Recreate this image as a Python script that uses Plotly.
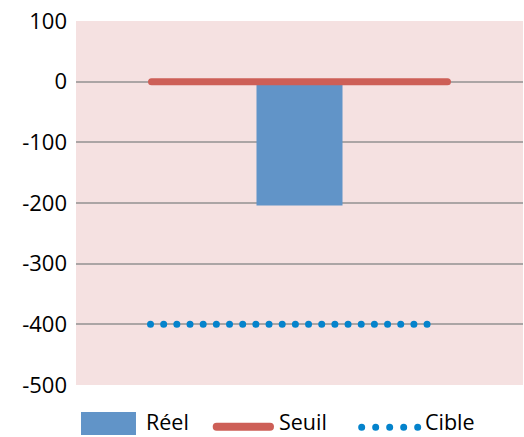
import plotly.graph_objects as go

# Data
categories = ["Réel"]
reel_values = [-204]
seuil_value = 0
cible_value = -400
y_ticks = [100, 0, -100, -200, -300, -400, -500]
legend_labels = ["Réel", "Seuil", "Cible"]

FONT = "Open Sans"
BG = "#F5E1E1"
C_BAR = "#6194C8"
C_SEUIL = "#CD5F57"
C_CIBLE = "#0483CC"

fig = go.Figure()

fig.add_trace(go.Bar(
    x=[0], y=reel_values, name=legend_labels[0], width=0.1924,
    marker=dict(color=C_BAR, line=dict(width=0)),
))

fig.add_trace(go.Scatter(
    x=[-0.331, 0.331], y=[seuil_value, seuil_value], name=legend_labels[1], mode="lines",
    line=dict(color=C_SEUIL, width=7),
))

fig.add_trace(go.Scatter(
    x=[-0.3333, 0.3143], y=[cible_value, cible_value], name=legend_labels[2], mode="lines",
    line=dict(color=C_CIBLE, width=7, dash="0px,13.17px"),
))

# Custom legend (paper coordinates)
shapes = [
    dict(type="rect", xref="paper", yref="paper", x0=0.0112, x1=0.1342, y0=-0.1374, y1=-0.0742,
         fillcolor=C_BAR, line=dict(width=0)),
    dict(type="line", xref="paper", yref="paper", x0=0.3148, x1=0.434, y0=-0.1146, y1=-0.1146,
         line=dict(color=C_SEUIL, width=8)),
    dict(type="line", xref="paper", yref="paper", x0=0.6391, x1=0.7644, y0=-0.1162, y1=-0.1162,
         line=dict(color=C_CIBLE, width=7, dash="0px,14px")),
]
ann_x = [0.1521, 0.4497, 0.7763]
annotations = [
    dict(text=t, x=x, y=-0.1016, xref="paper", yref="paper", xanchor="left", yanchor="middle",
         showarrow=False, font=dict(family=FONT, size=21.5, color="black"))
    for t, x in zip(legend_labels, ann_x)
]

fig.update_layout(
    width=524, height=437,
    margin=dict(l=76, r=1, t=21, b=52),
    paper_bgcolor="white", plot_bgcolor=BG,
    font=dict(family=FONT, size=22, color="black"),
    barmode="overlay",
    showlegend=False,
    shapes=shapes,
    annotations=annotations,
    xaxis=dict(range=[-0.5, 0.5], showticklabels=False, showgrid=False,
               zeroline=False, showline=False, ticks="", automargin=False),
    yaxis=dict(range=[-500, 100], tickvals=y_ticks, ticktext=[str(v) for v in y_ticks],
               showgrid=True, gridcolor="#ABA5A5", gridwidth=1.5,
               zeroline=False, showline=False, ticks="", ticklabelstandoff=8,
               automargin=False, tickfont=dict(size=22, family=FONT)),
)

post = """
document.body.style.margin = '0';
document.body.style.overflow = 'hidden';
var gd = document.getElementById('{plot_id}');
function fix(){
  gd.querySelectorAll('.scatterlayer .js-line, .shapelayer path').forEach(function(p){
    p.style.strokeLinecap = 'round';
  });
}
fix();
gd.on('plotly_afterplot', fix);
"""

fig.write_html("out.html", post_script=post, config={"displayModeBar": False})
